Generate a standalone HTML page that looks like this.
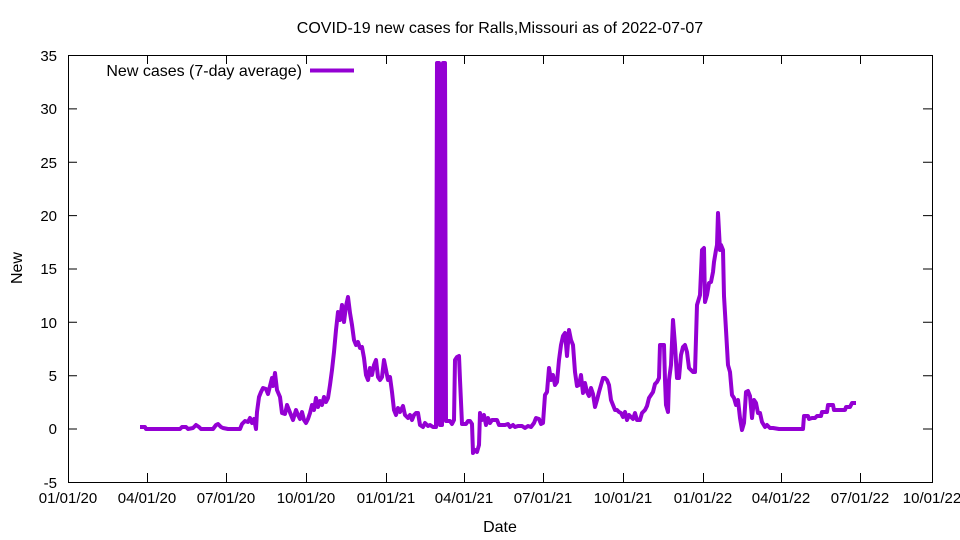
<!DOCTYPE html>
<html><head><meta charset="utf-8"><style>body{margin:0;background:#fff}svg{display:block}text{font-family:"Liberation Sans",sans-serif;font-size:15px;fill:#000}.b{font-size:16px}</style></head><body>
<svg width="960" height="540" xmlns="http://www.w3.org/2000/svg">
<text class="b" x="500" y="33" text-anchor="middle">COVID-19 new cases for Ralls,Missouri as of 2022-07-07</text>
<rect x="68.5" y="55.5" width="864" height="427" fill="none" stroke="#000"/>
<g stroke="#000" stroke-width="1">
<path d="M68 55.5h9M68 108.9h9M68 162.2h9M68 215.6h9M68 269h9M68 322.3h9M68 375.7h9M68 429h9M68 482.5h9M932 55.5h-9M932 108.9h-9M932 162.2h-9M932 215.6h-9M932 269h-9M932 322.3h-9M932 375.7h-9M932 429h-9"/>
<path d="M147.5 482v-9M226.5 482v-9M306.5 482v-9M386.5 482v-9M464.5 482v-9M543.5 482v-9M623.5 482v-9M703.5 482v-9M781.5 482v-9M860.5 482v-9M147.5 55v9M226.5 55v9M306.5 55v9M386.5 55v9M464.5 55v9M543.5 55v9M623.5 55v9M703.5 55v9M781.5 55v9M860.5 55v9"/>
</g>
<g text-anchor="end">
<text x="57" y="61">35</text><text x="57" y="114">30</text><text x="57" y="168">25</text><text x="57" y="221">20</text><text x="57" y="274">15</text><text x="57" y="328">10</text><text x="57" y="381">5</text><text x="57" y="434">0</text><text x="57" y="488">-5</text>
</g>
<g text-anchor="middle">
<text x="68" y="503">01/01/20</text><text x="147" y="503">04/01/20</text><text x="226" y="503">07/01/20</text><text x="306" y="503">10/01/20</text><text x="386" y="503">01/01/21</text><text x="464" y="503">04/01/21</text><text x="543" y="503">07/01/21</text><text x="623" y="503">10/01/21</text><text x="703" y="503">01/01/22</text><text x="781" y="503">04/01/22</text><text x="860" y="503">07/01/22</text><text x="932" y="503">10/01/22</text>
<text class="b" x="500" y="532">Date</text>
</g>
<text class="b" x="22" y="268" text-anchor="middle" transform="rotate(-90 22 268)">New</text>
<text class="b" x="302" y="76" text-anchor="end">New cases (7-day average)</text>
<path d="M310 70.5h44" stroke="#9400d3" stroke-width="4"/>
<polyline fill="none" stroke="#9400d3" stroke-width="4" stroke-linejoin="round" points="140,427 145,427 146,429 180,429 182,427 186,427 188,429 193,428 196,425 199,427 201,429 213,429 216,425 218,424 221,427 223,428 228,429 240,429 242,424 245,421 248,422 250,418 252,423 254,419 256,429 257,412 259,397 261,392 263,388 266,389 268,394 270,386 272,378 273,386 275,373 277,390 280,397 282,413 285,414 287,405 289,410 291,415 293,420 296,410 298,415 300,419 302,412 304,420 306,423 308,419 310,413 312,405 314,410 316,398 318,407 320,401 322,405 324,397 326,402 328,398 330,385 332,370 334,352 336,330 338,312 340,320 342,305 344,322 346,306 348,297 350,313 352,325 354,340 356,345 358,342 360,348 362,347 364,358 366,375 368,380 370,368 372,375 374,365 376,360 378,377 380,380 382,377 384,360 386,370 388,380 390,377 392,392 394,410 396,415 398,408 400,412 403,406 405,415 408,418 410,415 412,420 414,415 416,413 418,413 420,425 423,427 425,423 428,426 430,425 433,427 436,427 437,63 439,63 440,425 442,425 443,63 445,63 446,421 450,421 452,424 454,420 455,360 457,357 459,356 460,380 462,424 466,424 468,421 470,421 472,424 473,453 475,450 477,452 479,445 480,413 482,420 484,415 486,425 488,418 490,423 492,420 497,420 499,425 505,425 508,424 510,427 513,425 515,427 518,426 522,426 525,428 528,426 531,427 534,423 536,418 539,419 541,424 543,423 545,395 547,392 549,368 551,380 553,375 555,385 557,382 559,360 561,345 563,336 565,333 567,356 569,330 571,340 573,345 575,372 577,386 579,385 581,375 583,393 585,383 587,392 589,396 591,388 593,394 595,407 597,400 599,392 601,385 603,378 605,378 607,380 609,385 611,400 613,405 615,410 617,410 619,412 621,413 623,417 625,412 627,420 629,415 631,417 633,419 635,413 637,420 640,420 642,413 645,410 647,406 649,398 651,395 653,392 655,384 657,382 659,378 660,345 664,345 665,380 666,405 668,412 669,380 671,365 673,320 675,345 677,378 679,378 681,355 683,347 685,345 687,352 689,368 691,370 693,372 695,372 697,305 700,295 702,250 704,248 705,302 707,295 709,283 711,282 713,272 714,262 716,250 717,245 718,213 720,250 721,245 723,250 724,296 726,330 728,365 730,372 732,395 734,398 736,405 738,400 740,418 742,430 744,423 746,392 748,391 750,396 752,418 754,400 756,403 758,413 760,413 762,422 765,427 767,425 770,428 773,428 779,429 803,429 804,416 808,416 809,419 812,418 815,418 817,416 821,416 822,412 827,412 828,405 833,405 834,410 845,410 846,407 850,407 852,403 856,403"/>
</svg>
</body></html>
